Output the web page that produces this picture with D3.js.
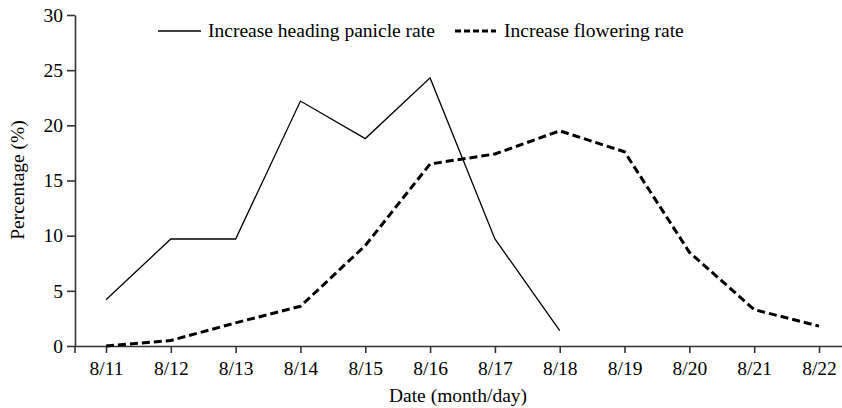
<!DOCTYPE html>
<html>
<head>
<meta charset="utf-8">
<script src="https://cdn.jsdelivr.net/npm/d3@7"></script>
<style>
body{margin:0;background:#fff;}
text{font-family:"Liberation Serif","Times New Roman",serif;fill:#000;}
</style>
</head>
<body>
<div class="canvas"></div>
<script>
// data
const dates=['8/11','8/12','8/13','8/14','8/15','8/16','8/17','8/18','8/19','8/20','8/21','8/22'];
const headingRate=[4.2,9.7,9.7,22.2,18.8,24.3,9.7,1.4];
const floweringRate=[0,0.5,2.1,3.6,9.1,16.5,17.4,19.5,17.6,8.5,3.3,1.8];
const yTicks=[0,5,10,15,20,25,30];
const seriesNames=['Increase heading panicle rate','Increase flowering rate'];

const dims={width:842,height:408};
const plot={left:75,right:842,top:15,bottom:346};
const fs=19.5;

const svg=d3.select('.canvas')
.append('svg')
.attr('width',dims.width)
.attr('height',dims.height);

const x=d3.scalePoint()
.domain(dates)
.range([106,819]);

const y=d3.scaleLinear()
.domain([0,30])
.range([plot.bottom,plot.top]);

// y axis
const yAxis=d3.axisLeft(y).tickValues(yTicks).tickSize(8).tickSizeOuter(0);
const yG=svg.append('g')
.attr('transform',`translate(${plot.left},0)`)
.call(yAxis);
yG.selectAll('text').attr('font-size',fs).attr('x',-12);

// x axis
const xAxis=d3.axisBottom(x).tickSize(7).tickSizeOuter(0);
const xG=svg.append('g')
.attr('transform',`translate(0,${plot.bottom})`)
.call(xAxis);
xG.select('.domain').attr('d',`M${plot.left},0.5H${plot.right}`);
xG.append('line') // tick at axis start
.attr('x1',plot.left).attr('x2',plot.left).attr('y1',0).attr('y2',7)
.attr('stroke','currentColor');
xG.selectAll('text').attr('font-size',fs).attr('dy','0.98em');

svg.selectAll('.domain, .tick line, g > line').attr('stroke','#333').attr('stroke-width',1.6);

// axis titles
svg.append('text')
.attr('x',458).attr('y',402)
.attr('text-anchor','middle')
.attr('font-size',fs)
.text('Date (month/day)');

svg.append('text')
.attr('transform','translate(24,180) rotate(-90)')
.attr('text-anchor','middle')
.attr('font-size',fs)
.text('Percentage (%)');

// lines
const line=d3.line()
.x((d,i)=>x(dates[i]))
.y(d=>y(d));

svg.append('path')
.datum(headingRate)
.attr('d',line)
.attr('fill','none')
.attr('stroke','#000')
.attr('stroke-width',1.3);

svg.append('path')
.datum(floweringRate)
.attr('d',line)
.attr('fill','none')
.attr('stroke','#000')
.attr('stroke-width',3)
.attr('stroke-dasharray','8,4');

// legend
const legend=svg.append('g');
legend.append('line')
.attr('x1',158).attr('x2',201).attr('y1',31).attr('y2',31)
.attr('stroke','#000').attr('stroke-width',1.3);
legend.append('text')
.attr('x',208).attr('y',37)
.attr('font-size',fs)
.text(seriesNames[0]);
legend.append('line')
.attr('x1',455).attr('x2',496).attr('y1',31).attr('y2',31)
.attr('stroke','#000').attr('stroke-width',3)
.attr('stroke-dasharray','6,3');
legend.append('text')
.attr('x',504).attr('y',37)
.attr('font-size',fs)
.text(seriesNames[1]);
</script>
</body>
</html>
